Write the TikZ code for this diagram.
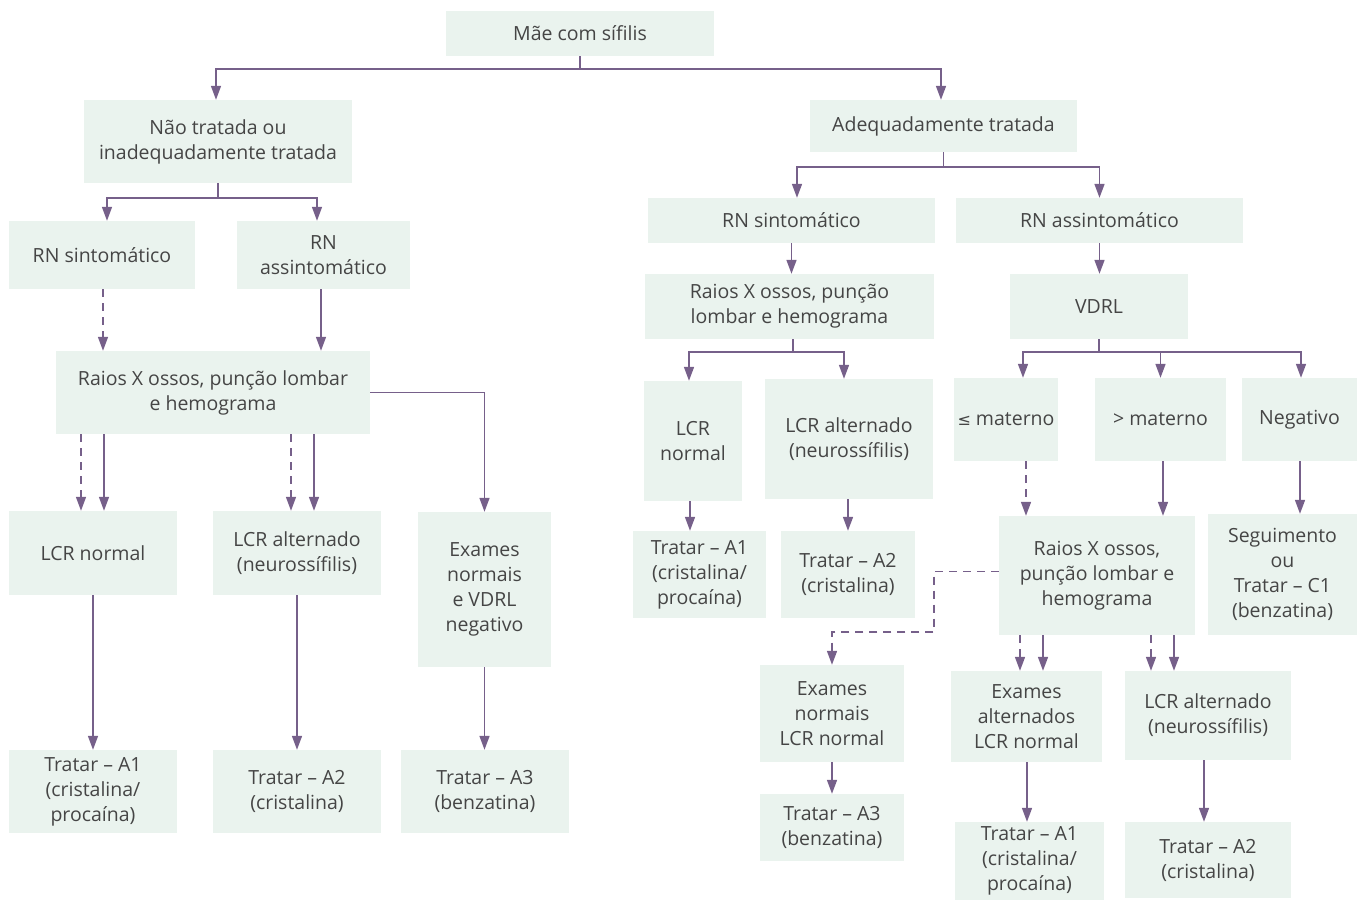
\documentclass[tikz,border=0pt]{standalone}
\usepackage{fontspec}
\setmainfont{Open Sans}
\newfontfamily\symfont{DejaVu Sans}
\usetikzlibrary{arrows.meta}
\definecolor{boxfill}{HTML}{EAF3EE}
\definecolor{arrcol}{HTML}{76608A}
\definecolor{txtcol}{HTML}{454545}
\tikzset{
  box/.style={fill=boxfill, text=txtcol, align=center, inner sep=0pt,
    font=\fontsize{19.5}{25}\selectfont},
  conn/.style={draw=arrcol, line width=1.6pt},
  arr/.style={conn, -{Triangle[width=10pt,length=14pt]}},
  dsh/.style={dash pattern=on 8pt off 6pt},
}
\newcommand{\bx}[6]{\node[box, minimum width=#4pt, minimum height=#5pt] (#1) at (#2,#3) {#6};}
\begin{document}
\begin{tikzpicture}[x=1pt,y=-1pt]
\useasboundingbox (0,0) rectangle (1358,900);
% ---------- boxes ----------
\bx{mae}{580}{33.5}{268}{45}{Mãe com sífilis}
\bx{nao}{218}{141.5}{268}{83}{Não tratada ou\\inadequadamente tratada}
\bx{adeq}{943.5}{126}{267}{52}{Adequadamente tratada}
% left branch
\bx{rnsL}{102}{255}{186}{68}{RN sintomático}
\bx{rnaL}{323.5}{255}{173}{68}{RN\\assintomático}
\bx{raioL}{213}{392.5}{314}{83}{Raios X ossos, punção lombar\\e hemograma}
\bx{lcrnL}{93}{553}{168}{84}{LCR normal}
\bx{lcraL}{297}{553}{168}{84}{LCR alternado\\(neurossífilis)}
\bx{examL}{484.5}{589.5}{133}{155}{Exames\\normais\\e VDRL\\negativo}
\bx{trAaL}{93}{791.5}{168}{83}{Tratar – A1\\(cristalina/\\procaína)}
\bx{trAbL}{297}{791.5}{168}{83}{Tratar – A2\\(cristalina)}
\bx{trAcL}{485}{791.5}{168}{83}{Tratar – A3\\(benzatina)}
% right branch
\bx{rnsR}{791.5}{220.5}{287}{45}{RN sintomático}
\bx{rnaR}{1099.5}{220.5}{287}{45}{RN assintomático}
\bx{raioR}{789.5}{306.5}{289}{65}{Raios X ossos, punção\\lombar e hemograma}
\bx{vdrl}{1099}{306.5}{178}{65}{VDRL}
\bx{lcrnR}{693}{441}{98}{120}{LCR\\normal}
\bx{lcraR}{849}{439}{168}{120}{LCR alternado\\(neurossífilis)}
\bx{trAaR}{699.5}{574.5}{133}{87}{Tratar – A1\\(cristalina/\\procaína)}
\bx{trAbR}{848}{574.5}{134}{87}{Tratar – A2\\(cristalina)}
\bx{leq}{1006}{419.5}{104}{83}{{\symfont\fontsize{16}{25}\selectfont ≤} materno}
\bx{gtm}{1160.5}{419.5}{131}{83}{> materno}
\bx{neg}{1299.5}{419.5}{115}{83}{Negativo}
\bx{raioB}{1097}{575.5}{196}{119}{Raios X ossos,\\punção lombar e\\hemograma}
\bx{seg}{1282.5}{574.5}{149}{121}{Seguimento\\ou\\Tratar – C1\\(benzatina)}
\bx{examN}{832}{713.5}{144}{97}{Exames\\normais\\LCR normal}
\bx{trAcR}{832}{827.5}{144}{67}{Tratar – A3\\(benzatina)}
\bx{examA}{1026.5}{716.5}{151}{91}{Exames\\alternados\\LCR normal}
\bx{lcraB}{1208}{715.5}{166}{89}{LCR alternado\\(neurossífilis)}
\bx{trAaB}{1029.5}{861}{149}{78}{Tratar – A1\\(cristalina/\\procaína)}
\bx{trAbB}{1208}{860}{166}{76}{Tratar – A2\\(cristalina)}
% ---------- connectors ----------
% top
\draw[conn] (mae.south) -- ++(0,13) coordinate (j1);
\draw[arr] (j1) -| ([xshift=-2pt]nao.north);
\draw[arr] (j1) -| ([xshift=-2.5pt]adeq.north);
% left
\draw[conn] (nao.south) -- ++(0,15) coordinate (j2);
\draw[arr] (j2) -| ([xshift=5pt]rnsL.north);
\draw[arr] (j2) -| ([xshift=-6.5pt]rnaL.north);
\draw[arr,dsh] ([xshift=1pt]rnsL.south) -- ([xshift=1pt]rnsL.south |- raioL.north);
\draw[arr] ([xshift=-2.5pt]rnaL.south) -- ([xshift=-2.5pt]rnaL.south |- raioL.north);
\draw[arr] (raioL.east) -| (examL.north);
\path (lcrnL.north) ++(-12,0) coordinate (p1) ++(23,0) coordinate (p2);
\draw[arr,dsh] (p1 |- raioL.south) -- (p1);
\draw[arr] (p2 |- raioL.south) -- (p2);
\path (lcraL.north) ++(-6,0) coordinate (p3) ++(23,0) coordinate (p4);
\draw[arr,dsh] (p3 |- raioL.south) -- (p3);
\draw[arr] (p4 |- raioL.south) -- (p4);
\draw[arr] (lcrnL.south) -- (trAaL.north);
\draw[arr] (lcraL.south) -- (trAbL.north);
\draw[arr] (examL.south) -- (examL.south |- trAcL.north);
% right
\draw[conn] (adeq.south) -- ++(0,15) coordinate (j3);
\draw[arr] (j3) -| ([xshift=5.5pt]rnsR.north);
\draw[arr] (j3) -| (rnaR.north);
\draw[arr] (rnsR.south) -- (rnsR.south |- raioR.north);
\draw[arr] (rnaR.south) -- (rnaR.south |- vdrl.north);
\draw[conn] ([xshift=3.5pt]raioR.south) -- ++(0,13) coordinate (j4);
\draw[arr] (j4) -| ([xshift=-4pt]lcrnR.north);
\draw[arr] (j4) -| ([xshift=-5pt]lcraR.north);
\draw[arr] ([xshift=-3pt]lcrnR.south) -- ([xshift=-3pt]lcrnR.south |- trAaR.north);
\draw[arr] ([xshift=-1pt]lcraR.south) -- ([xshift=-1pt]lcraR.south |- trAbR.north);
\draw[conn] (vdrl.south) -- ++(0,13) coordinate (j5);
\draw[arr] (j5) -| ([xshift=17pt]leq.north);
\draw[arr] (j5) -| (gtm.north);
\draw[arr] (j5) -| ([xshift=1.5pt]neg.north);
\path (leq.south) ++(20,0) coordinate (q1);
\draw[arr,dsh] (q1) -- (q1 |- raioB.north);
\path (gtm.south) ++(2.5,0) coordinate (q2);
\draw[arr] (q2) -- (q2 |- raioB.north);
\draw[arr] ([xshift=0.5pt]neg.south) -- ([xshift=0.5pt]neg.south |- seg.north);
\coordinate (bend) at (934,632);
\draw[arr,dsh] ([yshift=4pt]raioB.west) -| (bend) -| (examN.north);
\path (examA.north) ++(-6.5,0) coordinate (q3) ++(23,0) coordinate (q4);
\draw[arr,dsh] (q3 |- raioB.south) -- (q3);
\draw[arr] (q4 |- raioB.south) -- (q4);
\path (lcraB.north) ++(-57,0) coordinate (q5) ++(23,0) coordinate (q6);
\draw[arr,dsh] (q5 |- raioB.south) -- (q5);
\draw[arr] (q6 |- raioB.south) -- (q6);
\draw[arr] (examN.south) -- (trAcR.north);
\draw[arr] ([xshift=0.5pt]examA.south) -- ([xshift=0.5pt]examA.south |- trAaB.north);
\draw[arr] ([xshift=-4pt]lcraB.south) -- ([xshift=-4pt]lcraB.south |- trAbB.north);
\end{tikzpicture}
\end{document}
